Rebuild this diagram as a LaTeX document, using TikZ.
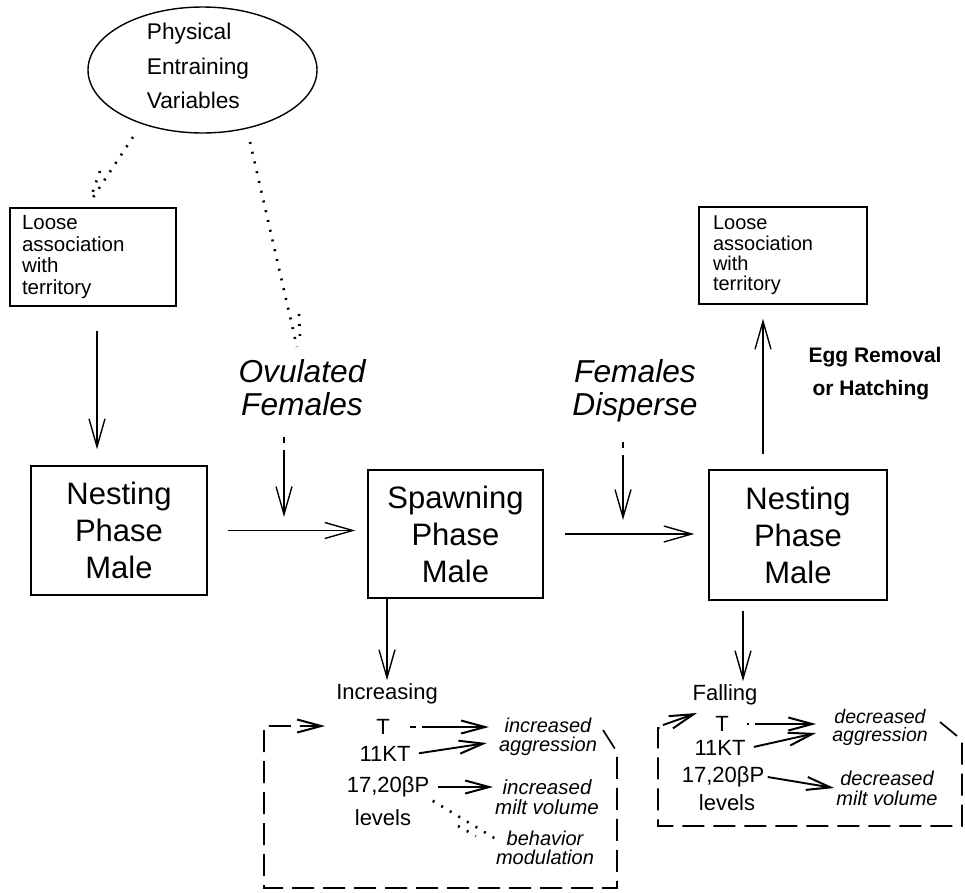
\documentclass[tikz,border=0pt]{standalone}
\usepackage{fontspec}
\setmainfont{Liberation Sans}
\usetikzlibrary{shapes.geometric,arrows.meta,calc}
\begin{document}
\begin{tikzpicture}[x=1pt,y=-1pt,
  box/.style={draw,line width=1.4pt,inner sep=0pt,align=center},
  bigtxt/.style={font=\fontsize{31}{37}\selectfont},
  smallbox/.style={font=\fontsize{20.5}{21.5}\selectfont},
  lvl/.style={font=\fontsize{22}{24}\selectfont,inner sep=3.3pt},
  eff/.style={font=\itshape\fontsize{20}{19}\selectfont,align=center,inner sep=2pt},
  arr/.style={line width=1.4pt,-{Straight Barb[length=28pt,width=16pt,line width=1.4pt]}},
  sarr/.style={line width=1.9pt,-{Straight Barb[length=24pt,width=13pt,line width=2pt]}},
  dotl/.style={line width=2.6pt,dash pattern=on 2pt off 8pt},
  brk/.style={line width=1.7pt,dash pattern=on 22pt off 9pt},
  dashar/.style={arr,dash pattern=on 6pt off 7pt on 200pt off 1pt},
]
\useasboundingbox (0,0) rectangle (965,892);

% ellipse
\node[draw,ellipse,line width=1.4pt,minimum width=229pt,minimum height=126pt,inner sep=0pt] (pev) at (202.5,70) {};
\node[align=left,font=\fontsize{22.7}{34.5}\selectfont] (pevt) at (198,66) {Physical\\Entraining\\Variables};

% boxes
\node[box,smallbox,minimum width=166pt,minimum height=98pt,text width=142pt,align=left] (loose1) at (93,257) {Loose\\association\\with\\territory};
\node[box,smallbox,font=\fontsize{20}{20.3}\selectfont,minimum width=168pt,minimum height=97pt,text width=140pt,align=left] (loose2) at (783,255.5) {Loose\\association\\with\\territory};
\node[box,bigtxt,minimum width=176pt,minimum height=129pt] (nest1) at (119,530.5) {Nesting\\Phase\\Male};
\node[box,bigtxt,minimum width=175pt,minimum height=128pt] (spawn) at (455.5,534) {Spawning\\Phase\\Male};
\node[box,bigtxt,minimum width=178pt,minimum height=130pt] (nest2) at (798,535) {Nesting\\Phase\\Male};

% labels
\node[font=\itshape\fontsize{31.7}{33}\selectfont,align=center] (ovul) at (302,388) {Ovulated\\Females};
\node[font=\itshape\fontsize{31.7}{33}\selectfont,align=center] (fdisp) at (635,391) {Females\\Disperse};
\node[anchor=west,align=left,font=\bfseries\fontsize{21}{33}\selectfont] (egg) at (805,373.5) {Egg Removal\\\hspace{4pt}or Hatching};

% left group
\node[lvl] (incr) at (387,694) {Increasing};
\node[lvl] (tl) at (383,727) {T};
\node[lvl] (kt) at (385,754) {11KT};
\node[lvl] (pp) at (388,787) {17,20βP};
\node[lvl] (lv) at (383,818) {levels};
\node[eff] (incagg) at (548,737) {increased\\aggression};
\node[eff,font=\itshape\fontsize{20.5}{20.5}\selectfont] (incmilt) at (547,797) {increased\\milt volume};
\node[eff] (behav) at (545,848) {behavior\\modulation};

% right group
\node[lvl] (fall) at (725,695) {Falling};
\node[lvl] (t2) at (722,724) {T};
\node[lvl] (kt2) at (720,748) {11KT};
\node[lvl] (pp2) at (723,777) {17,20βP};
\node[lvl] (lv2) at (727,803) {levels};
\node[eff,font=\itshape\fontsize{19.5}{18}\selectfont] (decagg) at (880,727) {decreased\\aggression};
\node[eff,font=\itshape\fontsize{20}{20}\selectfont] (decmilt) at (887,788) {decreased\\milt volume};

% coordinates
\coordinate (d1a) at (133,137); \coordinate (d1b) at (90,202);
\coordinate (d1c) at (100,171); \coordinate (d1d) at (92,194);
\coordinate (d2a) at (250,142); \coordinate (d2b) at (297,347);
\coordinate (d2c) at (299,314); \coordinate (d2d) at (300,337);
\coordinate (ovA) at (284,437); \coordinate (ovB) at (284,517);
\coordinate (fdA) at (623,442); \coordinate (fdB) at (623,520);
\coordinate (fbL1) at (603,730); \coordinate (fbL2) at (617,752);
\coordinate (fbL3) at (617,888); \coordinate (fbL4) at (264,888);
\coordinate (fbL5) at (264,726); \coordinate (fbL6) at (325,726);
\coordinate (fbR1) at (940,722); \coordinate (fbR2) at (962,740);
\coordinate (fbR3) at (962,826); \coordinate (fbR4) at (658,826);
\coordinate (fbR5) at (658,728); \coordinate (fbR6) at (664,728);
\coordinate (fbR7) at (663,725); \coordinate (fbR8) at (697,713);
\coordinate (bhA) at (458,826); \coordinate (bhB) at (476,836);

% dotted influences
\draw[dotl] (d1a) -- (d1b);
\draw[dotl] (d1c) -- (d1d);
\draw[dotl] (d2a) -- (d2b);
\draw[dotl] (d2c) -- (d2d);

% main arrows
\draw[arr,shorten <=24pt,shorten >=16pt] ([xshift=4pt]loose1.south) -- ([xshift=4pt]loose1.south |- nest1.north);
\draw[arr,shorten <=20pt,shorten >=12pt] (nest1.east) -- (nest1.east -| spawn.west);
\draw[dashar] (ovA) -- (ovB);
\draw[arr,shorten <=21pt,shorten >=14pt] (spawn.east) -- (spawn.east -| nest2.west);
\draw[dashar] (fdA) -- (fdB);
\draw[arr,shorten <=15pt,shorten >=14pt] ([xshift=-35pt]nest2.north) -- ([xshift=-35pt]nest2.north |- loose2.south);
\draw[arr] ([xshift=-68.5pt]spawn.south) -- ([xshift=-68.5pt]spawn.south |- incr.north);
\draw[arr,shorten <=10pt] ([xshift=-55pt]nest2.south) -- ([xshift=-55pt]nest2.south |- fall.north);

% left group arrows
\draw[sarr,dash pattern=on 6pt off 6pt on 200pt off 1pt,shorten <=17pt,shorten >=8pt] (tl.east) -- (tl.east -| incagg.west);
\draw[sarr,shorten <=5pt] (kt.east) -- ($(incagg.west)+(-10,6)$);
\draw[sarr,shorten <=5pt] (pp.east) -- (pp.east -| incmilt.west);
\draw[dotl] (pp.south east) -- ($(behav.west)+(2,-9)$);
\draw[dotl] (bhA) -- (bhB);
\draw[brk,-{Straight Barb[length=24pt,width=13pt,line width=2pt]}] (fbL1) -- (fbL2) -- (fbL3) -- (fbL4) -- (fbL5) -- (fbL6);

% right group arrows
\draw[sarr,dash pattern=on 2pt off 6pt on 200pt off 1pt,shorten <=15pt,shorten >=14pt] (t2.east) -- (t2.east -| decagg.west);
\draw[sarr,shorten <=5pt] (kt2.east) -- ($(decagg.west)+(-14,6)$);
\draw[sarr] (pp2.east) -- (decmilt.west);
\draw[brk] (fbR1) -- (fbR2) -- (fbR3) -- (fbR4) -- (fbR5) -- (fbR6);
\draw[sarr] (fbR7) -- (fbR8);
\end{tikzpicture}
\end{document}
